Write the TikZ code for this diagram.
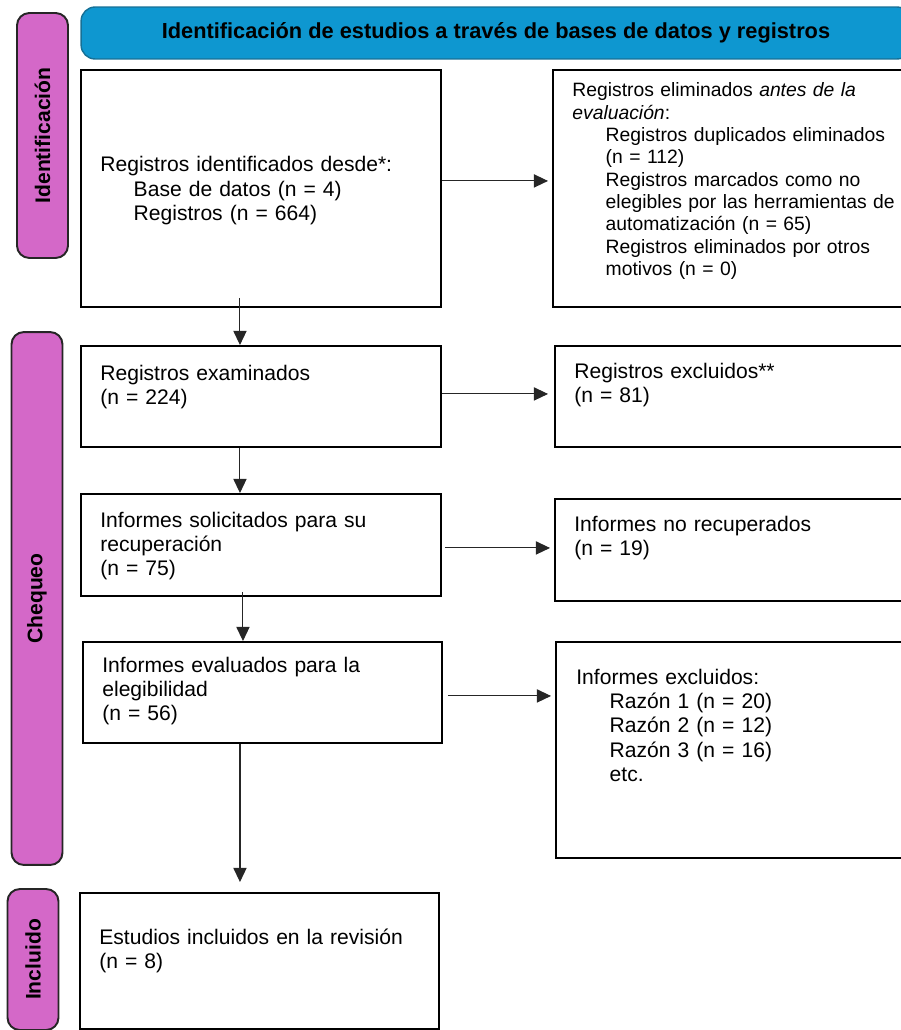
\documentclass[tikz,border=0pt]{standalone}
\usepackage{fontspec}
\setmainfont{Liberation Sans}
\usetikzlibrary{arrows.meta}
\definecolor{bannerblue}{RGB}{14,151,208}
\definecolor{bannerline}{RGB}{22,112,150}
\definecolor{phasepink}{RGB}{212,104,200}

\begin{document}
\begin{tikzpicture}[x=0.02cm,y=-0.02cm,>={Triangle[length=8pt,width=7.5pt]}]
	\tikzstyle{frame}=[draw=black,line width=1.1pt,anchor=north west,inner sep=0pt,minimum width=7.2cm]
	\tikzstyle{phase}=[draw=black!85,line width=1.1pt,fill=phasepink,rounded corners=7pt,rotate=90,minimum height=1.02cm,font=\fontsize{12}{14}\selectfont\bfseries]
	\tikzstyle{banner}=[draw=bannerline,line width=0.8pt,fill=bannerblue,rounded corners=8pt,minimum width=16.6cm,minimum height=1.04cm,font=\fontsize{12.4}{14}\selectfont\bfseries]
	\tikzstyle{txt}=[anchor=base west,inner sep=0pt,text width=8cm,align=left,font=\fontsize{12}{13.9}\selectfont]
	\tikzstyle{flow}=[->,draw=black!85,line width=0.6pt]
	\def\ind{\hspace*{19pt}}
	
	\useasboundingbox (0,0) rectangle (901,1030);
	\clip (0,0) rectangle (901,1030);
	
	% phases
	\node[phase,minimum width=4.9cm] 	(ph-id) 	at (42.5,135.5) 	{Identificación};
	\node[phase,minimum width=10.66cm] 	(ph-ch) 	at (37,598.5) 		{Chequeo};
	\node[phase,minimum width=2.82cm] 	(ph-in) 	at (33,959.5) 		{Incluido};
	\node[banner] 	(head) 	at (496,33) 	{Identificación de estudios a través de bases de datos y registros};
	
	% main column
	\node[frame,minimum height=4.74cm] 	(b1) 	at (80,69) 	{};
	\node[frame,minimum height=2.02cm] 	(b2) 	at (80,345) 	{};
	\node[frame,minimum height=2.04cm] 	(b3) 	at (80,493) 	{};
	\node[frame,minimum width=7.18cm,minimum height=2.02cm] 	(b4) 	at (82,641) 	{};
	\node[frame,minimum width=7.18cm,minimum height=2.72cm] 	(b5) 	at (79,892) 	{};
	
	% excluded column
	\node[frame,minimum width=8.16cm,minimum height=4.74cm] 	(e1) 	at (552,69) 	{};
	\node[frame,minimum width=8.16cm,minimum height=2.02cm] 	(e2) 	at (554,345) 	{};
	\node[frame,minimum width=8.16cm,minimum height=2.04cm] 	(e3) 	at (554,498) 	{};
	\node[frame,minimum width=8.16cm,minimum height=4.32cm] 	(e4) 	at (555,641) 	{};
	
	% texts
	\node[txt] 	(t1) 	at (100,172) 	{Registros identificados desde*:\\\ind Base de datos (n = 4)\\\ind Registros (n = 664)};
	\node[txt] 	(t2) 	at (100,380) 	{Registros examinados\\(n = 224)};
	\node[txt] 	(t3) 	at (100,527) 	{Informes solicitados para su\\recuperación\\(n = 75)};
	\node[txt] 	(t4) 	at (102,672) 	{Informes evaluados para la\\elegibilidad\\(n = 56)};
	\node[txt] 	(t5) 	at (99,944) 	{Estudios incluidos en la revisión\\(n = 8)};
	\node[txt,font=\fontsize{11}{12.7}\selectfont] 	(u1) 	at (572,97) 	{Registros eliminados \textit{antes de la}\\\textit{evaluación}:\\\ind Registros duplicados eliminados\\\ind (n = 112)\\\ind Registros marcados como no\\\ind elegibles por las herramientas de\\\ind automatización (n = 65)\\\ind Registros eliminados por otros\\\ind motivos (n = 0)};
	\node[txt] 	(u2) 	at (574,378) 	{Registros excluidos**\\(n = 81)};
	\node[txt] 	(u3) 	at (574,531) 	{Informes no recuperados\\(n = 19)};
	\node[txt] 	(u4) 	at (576,684) 	{Informes excluidos:\\\ind Razón 1 (n = 20)\\\ind Razón 2 (n = 12)\\\ind Razón 3 (n = 16)\\\ind etc.};
	
	% arrows to the excluded column
	\draw[flow,shorten >=0.08cm] ([yshift=0.15cm]b1.east) -- ([yshift=0.15cm]b1.east -| e1.west);
	\draw[flow,shorten >=0.12cm] ([yshift=0.05cm]b2.east) -- ([yshift=0.05cm]b2.east -| e2.west);
	\draw[flow,shorten <=0.06cm,shorten >=0.08cm] ([yshift=-0.06cm]b3.east) -- ([yshift=-0.06cm]b3.east -| e3.west);
	\draw[flow,shorten <=0.1cm,shorten >=0.08cm] ([yshift=-0.07cm]b4.east) -- ([yshift=-0.07cm]b4.east -| e4.west);
	
	% arrows down the main column
	\draw[flow,shorten <=-0.2cm] ([xshift=3.2cm]b1.south west) -- ([xshift=3.2cm]b1.south west |- b2.north);
	\draw[flow] ([xshift=3.2cm]b2.south west) -- ([xshift=3.2cm]b2.south west |- b3.north);
	\draw[flow,shorten <=-0.1cm] ([xshift=3.26cm]b3.south west) -- ([xshift=3.26cm]b3.south west |- b4.north);
	\draw[flow,shorten >=0.2cm] ([xshift=3.16cm]b4.south west) -- ([xshift=3.16cm]b4.south west |- b5.north);
	
\end{tikzpicture}
\end{document}
